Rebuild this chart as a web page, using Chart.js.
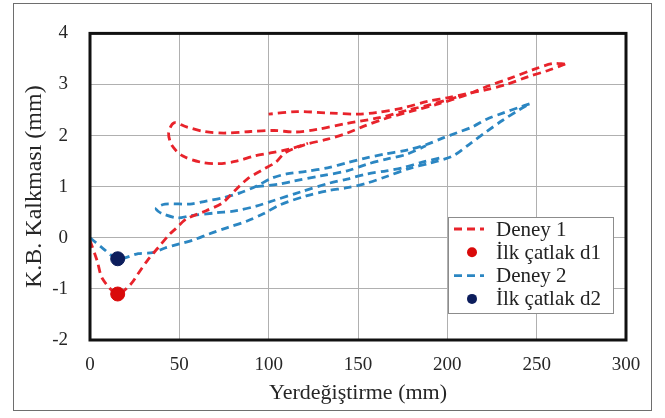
<!DOCTYPE html>
<html>
<head>
<meta charset="utf-8">
<script src="https://cdn.jsdelivr.net/npm/chart.js@4"></script>
<style>
  html, body { margin: 0; padding: 0; background: #fff; }
</style>
</head>
<body>
<canvas id="grafik" width="665" height="418"></canvas>
<script>
// Deney 1: yükleme kolu, dönüş kolu ve sol taraftaki çevrim
const deney1Yukleme = [
  [0, -0.05], [4, -0.45], [7, -0.8], [15.5, -1.1], [23, -0.9], [27, -0.7], [32, -0.45],
  [38, -0.2], [44, 0.05], [48, 0.18], [54, 0.37], [65, 0.53], [74, 0.68], [81, 0.92],
  [88, 1.15], [96, 1.32], [104, 1.48], [109, 1.66], [120, 1.82], [133, 1.93], [144, 2.05],
  [153, 2.18], [165, 2.33], [180, 2.48], [195, 2.62], [211, 2.8], [222, 2.96], [235, 3.12],
  [248, 3.29], [259, 3.41], [266, 3.4]
];
const deney1Donus = [
  [266, 3.4], [256, 3.27], [245, 3.15], [233, 3.0], [222, 2.9], [211, 2.82], [200, 2.74],
  [189, 2.67], [175, 2.54], [160, 2.45], [150, 2.42], [135, 2.44], [116, 2.47], [100, 2.42]
];
const deney1Cevrim = [
  [205, 2.75], [190, 2.6], [179, 2.51], [162, 2.35], [144, 2.24], [127, 2.12], [115, 2.07],
  [103, 2.1], [90, 2.08], [75, 2.05], [64, 2.08], [54, 2.17], [47, 2.25], [44, 2.05],
  [46, 1.8], [52, 1.6], [62, 1.48], [72, 1.45], [82, 1.5], [92, 1.6], [101, 1.66],
  [112, 1.74], [122, 1.85]
];

// Deney 2
const deney2Yukleme = [
  [0, 0.0], [7, -0.2], [15.5, -0.41], [27, -0.31], [35, -0.29], [42, -0.2], [50, -0.12],
  [58, -0.04], [67, 0.08], [77, 0.2], [88, 0.33], [97, 0.47], [106, 0.64], [121, 0.82],
  [133, 0.92], [144, 0.98], [155, 1.07], [166, 1.2], [179, 1.36], [190, 1.46], [203, 1.6],
  [213, 1.85], [222, 2.08], [231, 2.3], [240, 2.5], [246, 2.62]
];
const deney2Donus = [
  [246, 2.62], [240, 2.55], [231, 2.44], [222, 2.32], [214, 2.17], [205, 2.05], [198, 1.96],
  [188, 1.82], [178, 1.72], [165, 1.64], [153, 1.55], [144, 1.47], [133, 1.37], [121, 1.3],
  [110, 1.25], [102, 1.17], [93, 1.01], [84, 0.88], [74, 0.78], [65, 0.72], [56, 0.66],
  [42, 0.66], [37, 0.57], [40, 0.48], [49, 0.39], [56, 0.43], [71, 0.49], [82, 0.53],
  [93, 0.62], [102, 0.72], [118, 0.9], [134, 1.07], [144, 1.15], [155, 1.25], [166, 1.31],
  [175, 1.37], [186, 1.48], [198, 1.58]
];
const deney2Ara = [
  [93, 1.0], [106, 1.05], [114, 1.11], [129, 1.21], [144, 1.31], [155, 1.44], [166, 1.54],
  [177, 1.63], [188, 1.8]
];

// ilk çatlak noktaları
const ilkCatlakD1 = [[15.5, -1.1]];
const ilkCatlakD2 = [[15.5, -0.41]];

const etiketler = ["Deney 1", "İlk çatlak d1", "Deney 2", "İlk çatlak d2"];
const xTicks = [0, 50, 100, 150, 200, 250, 300];
const yTicks = [-2, -1, 0, 1, 2, 3, 4];

const kirmizi = "#e8232b";
const mavi = "#2b86c2";
const lacivert = "#0c1d5c";
const yaziFont = "'Liberation Serif', 'Times New Roman', serif";

function nokta(arr) {
  return arr.map(p => ({ x: p[0], y: p[1] }));
}

function cizgi(label, arr, renk) {
  return {
    label: label,
    data: nokta(arr),
    showLine: true,
    borderColor: renk,
    backgroundColor: renk,
    borderWidth: 2.8,
    borderDash: [8, 5],
    pointRadius: 0,
    tension: 0.3,
    order: 2
  };
}

function isaret(label, arr, renk) {
  return {
    label: label,
    data: nokta(arr),
    showLine: false,
    pointRadius: 7,
    pointBackgroundColor: renk,
    pointBorderColor: renk,
    backgroundColor: renk,
    order: 0
  };
}

const datasets = [
  cizgi(etiketler[0], deney1Yukleme, kirmizi),
  cizgi("", deney1Donus, kirmizi),
  cizgi("", deney1Cevrim, kirmizi),
  isaret(etiketler[1], ilkCatlakD1, "#d90a0a"),
  cizgi(etiketler[2], deney2Yukleme, mavi),
  cizgi("", deney2Donus, mavi),
  cizgi("", deney2Ara, mavi),
  isaret(etiketler[3], ilkCatlakD2, lacivert)
];

// dış çerçeve ve beyaz zemin
const cerceve = {
  id: "cerceve",
  beforeDraw(chart) {
    const ctx = chart.ctx;
    ctx.save();
    ctx.fillStyle = "#fff";
    ctx.fillRect(0, 0, chart.width, chart.height);
    ctx.strokeStyle = "#6e6e6e";
    ctx.lineWidth = 1;
    ctx.strokeRect(13.5, 3.5, 638, 407);
    ctx.restore();
  },
  afterDraw(chart) {
    const a = chart.chartArea;
    const ctx = chart.ctx;
    ctx.save();
    ctx.strokeStyle = "#111";
    ctx.lineWidth = 3;
    ctx.strokeRect(a.left, a.top, a.right - a.left, a.bottom - a.top);
    ctx.restore();
  }
};

// grafik içindeki açıklama kutusu
const aciklama = {
  id: "aciklama",
  afterDraw(chart) {
    const ctx = chart.ctx;
    const x0 = 448, y0 = 217, w = 165, h = 96;
    ctx.save();
    ctx.fillStyle = "#fff";
    ctx.fillRect(x0, y0, w, h);
    ctx.strokeStyle = "#8c8c8c";
    ctx.lineWidth = 1;
    ctx.strokeRect(x0 + 0.5, y0 + 0.5, w, h);
    const girdiler = [
      { tip: "cizgi", renk: kirmizi },
      { tip: "nokta", renk: "#d90a0a" },
      { tip: "cizgi", renk: mavi },
      { tip: "nokta", renk: lacivert }
    ];
    ctx.font = "21px " + yaziFont;
    ctx.textBaseline = "middle";
    girdiler.forEach((g, i) => {
      const y = y0 + 12 + i * 23.3;
      if (g.tip === "cizgi") {
        ctx.strokeStyle = g.renk;
        ctx.lineWidth = 2.8;
        ctx.setLineDash([8, 5]);
        ctx.beginPath();
        ctx.moveTo(454, y);
        ctx.lineTo(484, y);
        ctx.stroke();
        ctx.setLineDash([]);
      } else {
        ctx.fillStyle = g.renk;
        ctx.beginPath();
        ctx.arc(472, y, 5, 0, Math.PI * 2);
        ctx.fill();
      }
      ctx.fillStyle = "#222";
      ctx.fillText(etiketler[i], 496, y + 1);
    });
    ctx.restore();
  }
};

new Chart(document.getElementById("grafik"), {
  type: "scatter",
  data: { datasets: datasets },
  options: {
    responsive: false,
    animation: false,
    devicePixelRatio: 1,
    layout: { padding: { top: 32, right: 39, left: 0, bottom: 0 } },
    plugins: {
      legend: { display: false },
      tooltip: { enabled: false }
    },
    scales: {
      x: {
        type: "linear",
        min: 0,
        max: 300,
        afterBuildTicks: s => { s.ticks = xTicks.map(v => ({ value: v })); },
        afterFit: s => { s.height = 78; },
        grid: { color: "#b0b0b0", lineWidth: 1, drawTicks: false },
        border: { display: false },
        ticks: { padding: 14, color: "#262626", font: { family: yaziFont, size: 19 } },
        title: {
          display: true,
          text: "Yerdeğiştirme (mm)",
          color: "#262626",
          font: { family: yaziFont, size: 22 },
          padding: { top: 0, bottom: 12 }
        }
      },
      y: {
        type: "linear",
        min: -2,
        max: 4,
        afterBuildTicks: s => { s.ticks = yTicks.map(v => ({ value: v })); },
        afterFit: s => { s.width = 90; },
        grid: { color: "#b0b0b0", lineWidth: 1, drawTicks: false },
        border: { display: false },
        ticks: { padding: 22, color: "#262626", font: { family: yaziFont, size: 19 } },
        title: {
          display: true,
          text: "K.B. Kalkması (mm)",
          color: "#262626",
          font: { family: yaziFont, size: 24 },
          padding: { top: 20, bottom: 0 }
        }
      }
    }
  },
  plugins: [cerceve, aciklama]
});
</script>
</body>
</html>
